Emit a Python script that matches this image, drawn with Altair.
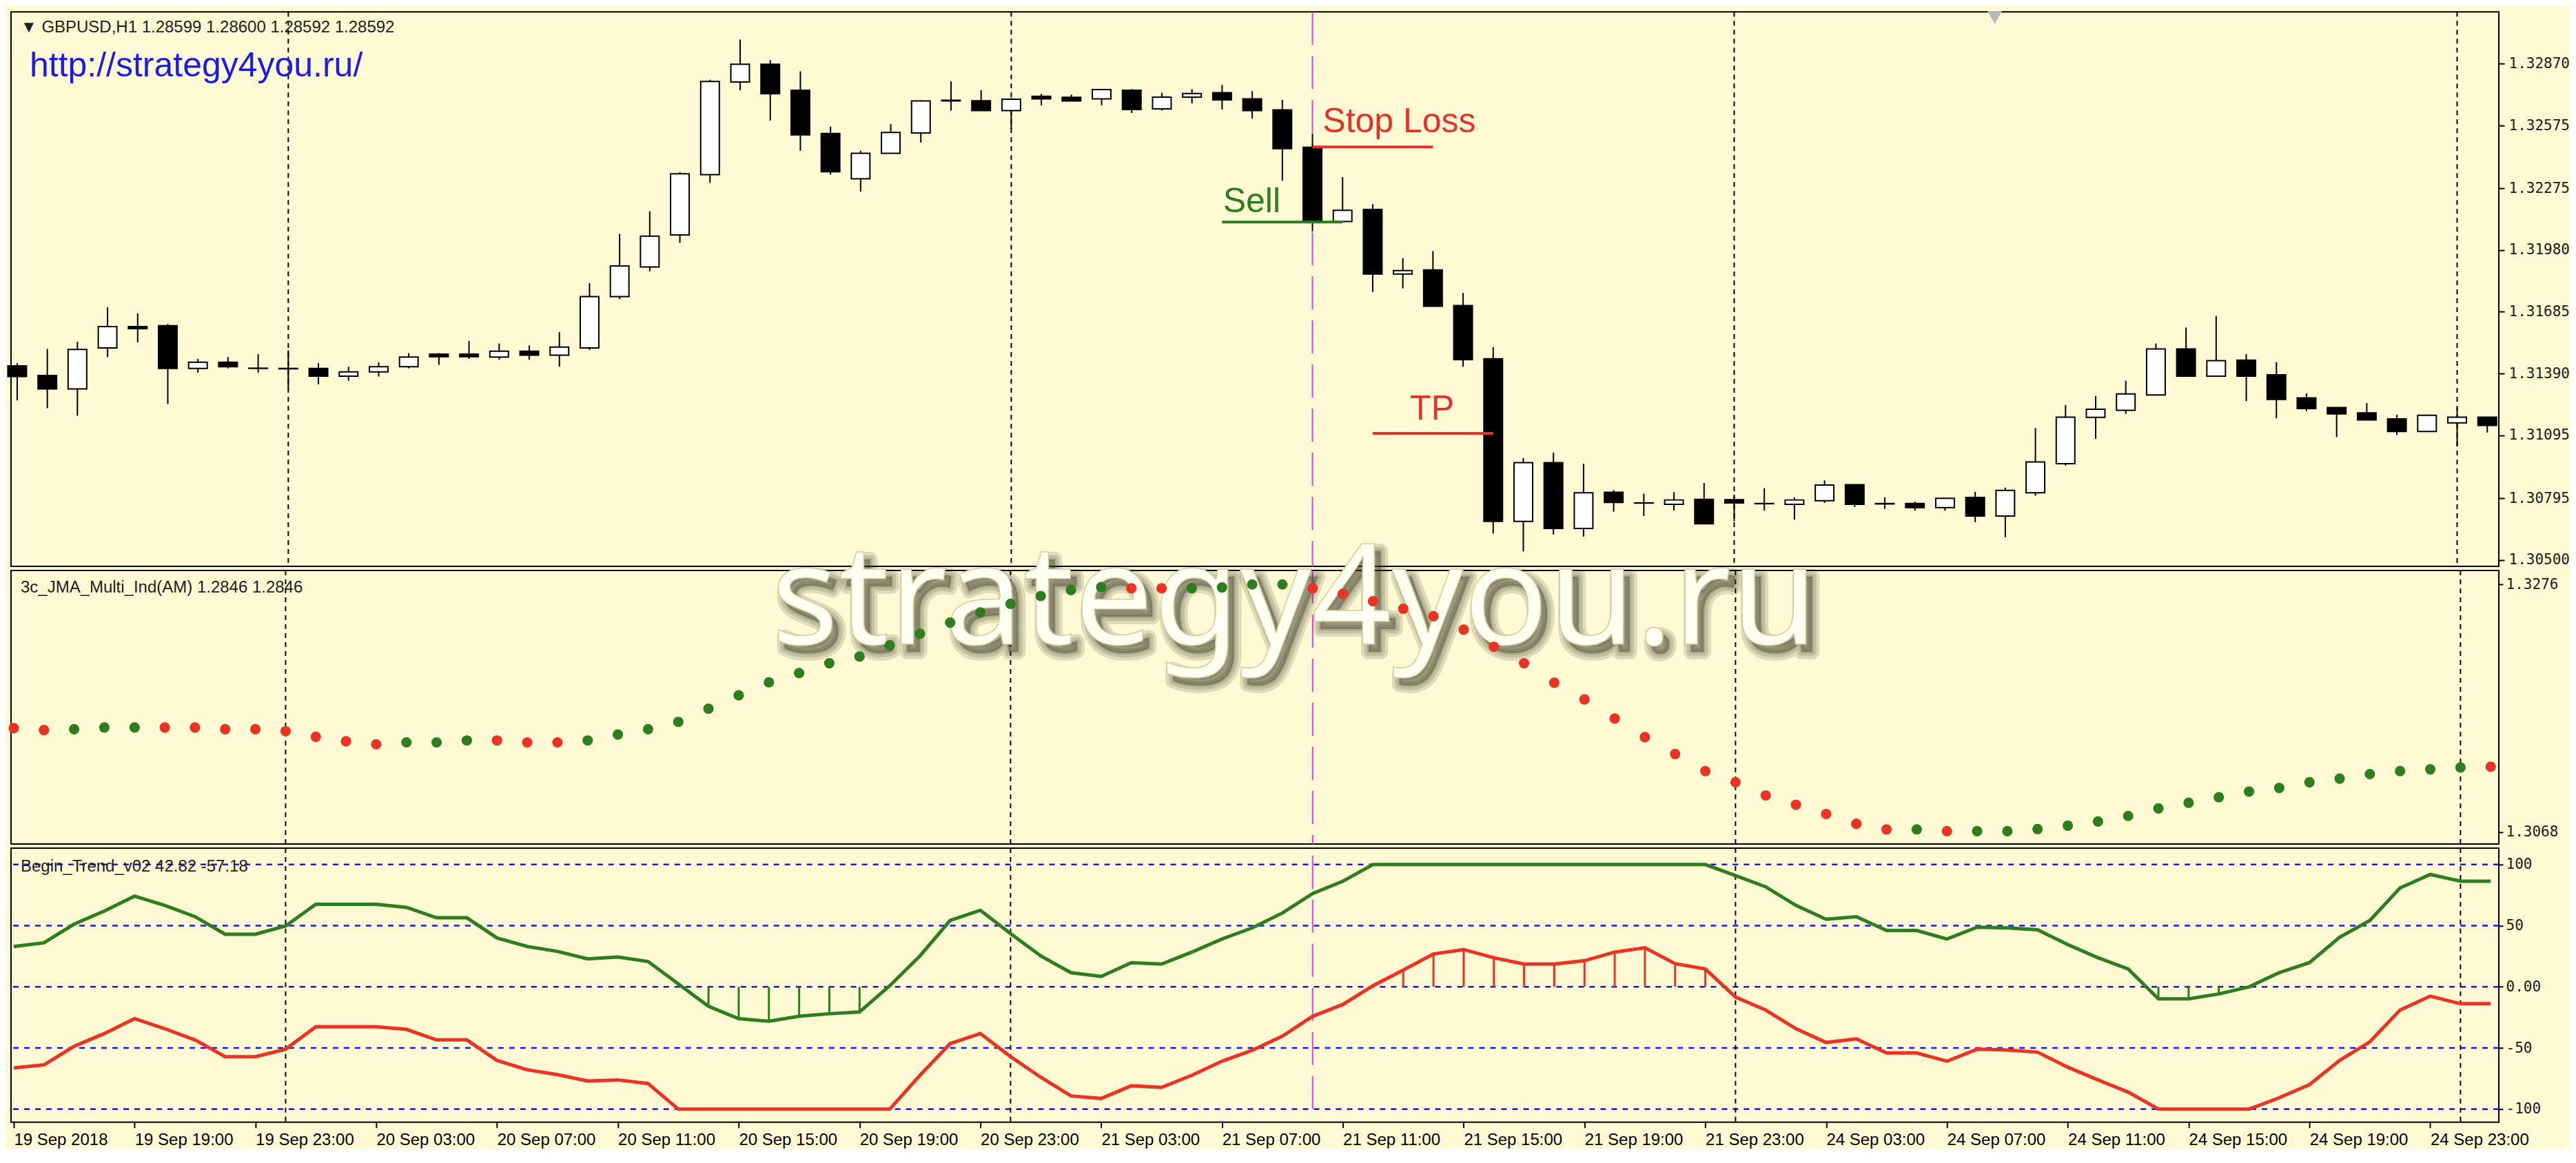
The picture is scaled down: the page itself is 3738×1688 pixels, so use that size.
import altair as alt
import pandas as pd

# ---------------- data ----------------
opens = [1.31427, 1.31381, 1.31317, 1.31513, 1.31615, 1.31619, 1.31415, 1.31444, 1.31415, 1.31415,
         1.31415, 1.31378, 1.31398, 1.31423, 1.31483, 1.31483, 1.31469, 1.31497, 1.31478, 1.31513,
         1.31758, 1.31899, 1.32052, 1.32340, 1.32782, 1.32867, 1.32743, 1.32536, 1.32320, 1.32442,
         1.32539, 1.32692, 1.32693, 1.32646, 1.32714, 1.32709, 1.32702, 1.32743, 1.32654, 1.32710,
         1.32731, 1.32702, 1.32649, 1.32471, 1.32116, 1.32174, 1.31865, 1.31885, 1.31715, 1.31461,
         1.30685, 1.30965, 1.30651, 1.30824, 1.30773, 1.30766, 1.30790, 1.30788, 1.30770, 1.30766,
         1.30783, 1.30860, 1.30770, 1.30770, 1.30750, 1.30799, 1.30710, 1.30821, 1.30960, 1.31181,
         1.31215, 1.31288, 1.31508, 1.31378, 1.31454, 1.31384, 1.31274, 1.31228, 1.31203, 1.31174,
         1.31114, 1.31155, 1.31182]
highs = [1.31440, 1.31508, 1.31542, 1.31707, 1.31678, 1.31627, 1.31461, 1.31469, 1.31483, 1.31501,
         1.31440, 1.31423, 1.31444, 1.31488, 1.31488, 1.31546, 1.31534, 1.31525, 1.31588, 1.31822,
         1.32057, 1.32165, 1.32352, 1.32793, 1.32985, 1.32887, 1.32833, 1.32569, 1.32454, 1.32581,
         1.32695, 1.32785, 1.32743, 1.32705, 1.32726, 1.32722, 1.32748, 1.32748, 1.32731, 1.32748,
         1.32768, 1.32739, 1.32697, 1.32536, 1.32328, 1.32199, 1.31941, 1.31975, 1.31775, 1.31517,
         1.30987, 1.31013, 1.30960, 1.30834, 1.30817, 1.30824, 1.30868, 1.30812, 1.30843, 1.30799,
         1.30880, 1.30860, 1.30800, 1.30778, 1.30795, 1.30826, 1.30846, 1.31130, 1.31240, 1.31283,
         1.31356, 1.31534, 1.31610, 1.31665, 1.31483, 1.31445, 1.31296, 1.31230, 1.31249, 1.31194,
         1.31194, 1.31228, 1.31184]
lows = [1.31262, 1.31225, 1.31189, 1.31469, 1.31539, 1.31245, 1.31395, 1.31415, 1.31395, 1.31313,
        1.31339, 1.31356, 1.31376, 1.31415, 1.31432, 1.31461, 1.31457, 1.31457, 1.31423, 1.31503,
        1.31746, 1.31878, 1.32014, 1.32301, 1.32743, 1.32598, 1.32454, 1.32340, 1.32259, 1.32440,
        1.32493, 1.32646, 1.32646, 1.32556, 1.32671, 1.32692, 1.32671, 1.32634, 1.32646, 1.32680,
        1.32651, 1.32607, 1.32311, 1.32069, 1.32114, 1.31780, 1.31797, 1.31710, 1.31423, 1.30626,
        1.30541, 1.30622, 1.30612, 1.30731, 1.30710, 1.30736, 1.30673, 1.30685, 1.30736, 1.30693,
        1.30773, 1.30753, 1.30744, 1.30736, 1.30736, 1.30681, 1.30609, 1.30807, 1.30951, 1.31079,
        1.31198, 1.31286, 1.31376, 1.31376, 1.31259, 1.31177, 1.31211, 1.31087, 1.31167, 1.31097,
        1.31112, 1.31045, 1.31109]
closes = [1.31376, 1.31317, 1.31505, 1.31615, 1.31605, 1.31415, 1.31444, 1.31423, 1.31416, 1.31413,
          1.31378, 1.31398, 1.31423, 1.31469, 1.31471, 1.31471, 1.31497, 1.31478, 1.31517, 1.31758,
          1.31904, 1.32046, 1.32344, 1.32785, 1.32867, 1.32726, 1.32530, 1.32354, 1.32442, 1.32541,
          1.32692, 1.32695, 1.32646, 1.32700, 1.32702, 1.32692, 1.32746, 1.32651, 1.32710, 1.32727,
          1.32697, 1.32646, 1.32464, 1.32119, 1.32170, 1.31865, 1.31882, 1.31712, 1.31457, 1.30685,
          1.30965, 1.30651, 1.30821, 1.30775, 1.30772, 1.30787, 1.30673, 1.30773, 1.30769, 1.30787,
          1.30858, 1.30766, 1.30768, 1.30750, 1.30795, 1.30710, 1.30833, 1.30968, 1.31182, 1.31220,
          1.31293, 1.31508, 1.31378, 1.31452, 1.31378, 1.31267, 1.31223, 1.31198, 1.31169, 1.31114,
          1.31191, 1.31182, 1.31143]

jma_values = [1.31553, 1.31537, 1.31544, 1.31559, 1.31559, 1.31559, 1.31559, 1.31544, 1.31544, 1.31528,
              1.31481, 1.31443, 1.31418, 1.31434, 1.31434, 1.31450, 1.31450, 1.31434, 1.31434, 1.31450,
              1.31500, 1.31544, 1.31606, 1.31716, 1.31829, 1.31938, 1.32016, 1.32098, 1.32154, 1.32248,
              1.32345, 1.32439, 1.32524, 1.32596, 1.32662, 1.32712, 1.32737, 1.32727, 1.32727, 1.32727,
              1.32734, 1.32759, 1.32759, 1.32727, 1.32680, 1.32618, 1.32555, 1.32492, 1.32380, 1.32236,
              1.32098, 1.31935, 1.31794, 1.31634, 1.31478, 1.31337, 1.31193, 1.31099, 1.30989, 1.30911,
              1.30833, 1.30751, 1.30704, 1.30704, 1.30689, 1.30689, 1.30689, 1.30707, 1.30735, 1.30770,
              1.30817, 1.30880, 1.30927, 1.30974, 1.31021, 1.31052, 1.31099, 1.31130, 1.31168, 1.31193,
              1.31208, 1.31224, 1.31230]
jma_colors = list("rrgggrrrrrrrrgggrrrggggggggggggggggggrrggggrrrrrrrrrrrrrrrrrrrrgrgggggggggggggggggr")

trend_green = [33.0, 36.0, 51.3, 62.0, 74.2, 66.6, 57.4, 43.0, 43.0, 49.8,
               67.5, 67.5, 67.5, 65.0, 56.5, 56.5, 40.0, 33.0, 29.0, 22.9,
               24.4, 20.7, 2.4, -15.9, -26.0, -28.1, -24.1, -22.0, -20.5, 0.9,
               25.3, 54.3, 62.6, 43.6, 25.3, 11.6, 8.5, 19.8, 18.6, 28.4,
               39.1, 48.2, 60.4, 76.3, 86.4, 100, 100, 100, 100, 100,
               100, 100, 100, 100, 100, 100, 100, 91.0, 81.8, 66.6,
               55.3, 57.4, 46.1, 46.1, 39.1, 48.8, 48.2, 46.7, 34.5, 23.8,
               14.6, -9.8, -9.8, -5.8, 0.0, 11.6, 19.8, 40.6, 54.3, 80.9,
               91.9, 86.4, 86.4]
trend_red = [-66.3, -63.8, -48.6, -38.2, -26.0, -34.2, -43.4, -57.1, -57.1, -51.0,
             -32.7, -32.7, -32.7, -34.8, -43.4, -43.4, -60.2, -67.8, -71.8, -77.0,
             -76.1, -79.1, -100, -100, -100, -100, -100, -100, -100, -100,
             -72.4, -46.4, -38.2, -57.1, -73.9, -89.2, -91.3, -80.9, -82.2, -72.4,
             -60.8, -51.9, -40.3, -24.1, -14.4, 0.9, 13.7, 26.9, 30.5, 23.8,
             18.6, 18.6, 21.4, 28.4, 32.0, 19.0, 14.6, -8.3, -19.0, -34.2,
             -45.5, -42.5, -54.1, -54.1, -60.8, -51.0, -51.6, -53.4, -65.7, -76.1,
             -86.1, -100, -100, -100, -100, -90.7, -80.0, -60.2, -44.9, -19.0,
             -7.6, -13.8, -13.8]

time_labels = ["19 Sep 2018", "19 Sep 19:00", "19 Sep 23:00", "20 Sep 03:00", "20 Sep 07:00",
               "20 Sep 11:00", "20 Sep 15:00", "20 Sep 19:00", "20 Sep 23:00", "21 Sep 03:00",
               "21 Sep 07:00", "21 Sep 11:00", "21 Sep 15:00", "21 Sep 19:00", "21 Sep 23:00",
               "24 Sep 03:00", "24 Sep 07:00", "24 Sep 11:00", "24 Sep 15:00", "24 Sep 19:00",
               "24 Sep 23:00"]
time_tick_bars = [0, 4, 8, 12, 16, 20, 24, 28, 32, 36, 40, 44, 48, 52, 56, 60, 64, 68, 72, 76, 80]

price_ticks = [1.30500, 1.30795, 1.31095, 1.31390, 1.31685, 1.31980, 1.32275, 1.32575, 1.32870]
jma_ticks = [1.3068, 1.3276]
trend_ticks = [-100, -50, 0, 50, 100]
trend_levels = [100, 50, 0, -50, -100]
day_breaks = [9, 33, 57, 81]
signal_bar = 43

trade_labels = ["Stop Loss", "Sell", "TP"]
trade_start = [43, 40, 45]
trade_end = [47, 44, 49]
trade_level = [1.32472, 1.32114, 1.31105]
trade_label_bar = [43.34, 40.03, 46.24]
trade_label_price = [1.32591, 1.32209, 1.31220]
trade_colors = ["#E8302A", "#2E7D1F", "#E8302A"]

watermark_text = "strategy4you.ru"
watermark_bar = 42.4
watermark_level = 1.32258

# ---------------- styling ----------------
BG = "#FFFAD4"
GREEN = "#2E7D1F"
RED = "#EB3324"
W = 3611
WM_FONT = "Noto Sans"
WM_SIZE = 204

n = len(opens)
bars = list(range(n))

XS = alt.Scale(domain=[-0.09, 82.27], nice=False, zero=False)
X_NONE = alt.X("bar:Q", scale=XS, axis=None)

right_axis_common = dict(orient="right", title=None, grid=False, domain=False, ticks=True,
                         tickColor="black", tickWidth=2, labelFont="DejaVu Sans Mono",
                         labelFontSize=21, labelColor="#1a1a1a", labelOverlap=False)

# ---------------- price panel ----------------
candles = pd.DataFrame(dict(bar=bars, open=opens, high=highs, low=lows, close=closes))
candles["dir"] = ["up" if c > o else "down" for o, c in zip(opens, closes)]

PS = alt.Scale(domain=[1.30470, 1.33117], nice=False, zero=False)
P_AXIS = alt.Axis(values=price_ticks, format=".5f", tickSize=8, labelPadding=6, **right_axis_common)

seps_p = alt.Chart(pd.DataFrame({"bar": day_breaks})).mark_rule(
    color="black", strokeWidth=2, strokeDash=[7, 6]).encode(x=X_NONE)
sig_p = alt.Chart(pd.DataFrame({"bar": [signal_bar]})).mark_rule(
    color="#E03EE0", strokeWidth=2, strokeDash=[48, 16]).encode(x=X_NONE)
wicks = alt.Chart(candles).mark_rule(color="black", strokeWidth=2).encode(
    x=X_NONE, y=alt.Y("low:Q", scale=PS, axis=P_AXIS), y2="high:Q")
bodies = alt.Chart(candles).mark_bar(width=27, stroke="black", strokeWidth=2).encode(
    x=X_NONE, y=alt.Y("open:Q", scale=PS, axis=P_AXIS), y2="close:Q",
    fill=alt.Fill("dir:N", scale=alt.Scale(domain=["up", "down"], range=["white", "black"]), legend=None))

trade = pd.DataFrame(dict(label=trade_labels, start=trade_start, end=trade_end, level=trade_level,
                          lx=trade_label_bar, ly=trade_label_price, col=trade_colors))
trade_lines = alt.Chart(trade).mark_rule(strokeWidth=4).encode(
    x=alt.X("start:Q", scale=XS, axis=None), x2="end:Q",
    y=alt.Y("level:Q", scale=PS, axis=P_AXIS), color=alt.Color("col:N", scale=None))
trade_text = alt.Chart(trade).mark_text(align="left", baseline="middle", font="Liberation Sans",
                                        fontSize=50).encode(
    x=alt.X("lx:Q", scale=XS, axis=None), y=alt.Y("ly:Q", scale=PS, axis=P_AXIS),
    text="label:N", color=alt.Color("col:N", scale=None))

hdr_p = alt.Chart(pd.DataFrame({"t": ["\u25bc GBPUSD,H1  1.28599 1.28600 1.28592 1.28592"]})).mark_text(
    align="left", baseline="middle", font="Liberation Sans", fontSize=24, color="#202020").encode(
    x=alt.value(14), y=alt.value(23), text="t:N")
url = alt.Chart(pd.DataFrame({"t": ["http://strategy4you.ru/"]})).mark_text(
    align="left", baseline="middle", font="Liberation Sans", fontSize=50, color="#1C1CE8").encode(
    x=alt.value(27), y=alt.value(79), text="t:N")
marker = alt.Chart(pd.DataFrame({"bar": [65.65]})).mark_point(
    shape="triangle-down", filled=True, color="#B8B8B8", size=450, opacity=1).encode(
    x=X_NONE, y=alt.value(8))

price = alt.layer(seps_p, sig_p, wicks, bodies, trade_lines, trade_text, hdr_p, url, marker).properties(
    width=W, height=805)

# ---------------- JMA panel ----------------
JS = alt.Scale(domain=[1.30582, 1.32876], nice=False, zero=False)
J_AXIS = alt.Axis(values=jma_ticks, format=".4f", tickSize=6, labelPadding=4, **right_axis_common)
jdf = pd.DataFrame(dict(bar=bars, v=jma_values, c=jma_colors))

seps_j = alt.Chart(pd.DataFrame({"bar": day_breaks})).mark_rule(
    color="black", strokeWidth=2, strokeDash=[7, 6]).encode(x=X_NONE)
sig_j = alt.Chart(pd.DataFrame({"bar": [signal_bar]})).mark_rule(
    color="#E03EE0", strokeWidth=2, strokeDash=[48, 16]).encode(x=X_NONE)

wm = pd.DataFrame({"bar": [watermark_bar], "v": [watermark_level], "t": [watermark_text]})
# soft drop shadow: the same word with widening translucent outlines
shadow_widths = [22, 13, 5]
wm_layers = [
    alt.Chart(wm).mark_text(font=WM_FONT, fontSize=WM_SIZE, align="center", baseline="alphabetic",
                            dx=9, dy=11, fill="#3a3a28", fillOpacity=0.16, stroke="#3a3a28",
                            strokeOpacity=0.16, strokeWidth=sw, strokeJoin="round").encode(
        x=X_NONE, y=alt.Y("v:Q", scale=JS, axis=J_AXIS), text="t:N")
    for sw in shadow_widths
]
wm_main = alt.Chart(wm).mark_text(font=WM_FONT, fontSize=WM_SIZE, align="center", baseline="alphabetic",
                                  fill="#FFFEF0", stroke="#d2cca0", strokeWidth=1.5).encode(
    x=X_NONE, y=alt.Y("v:Q", scale=JS, axis=J_AXIS), text="t:N")

dots = alt.Chart(jdf).mark_circle(size=230, opacity=1).encode(
    x=X_NONE, y=alt.Y("v:Q", scale=JS, axis=J_AXIS),
    color=alt.Color("c:N", scale=alt.Scale(domain=["g", "r"], range=[GREEN, RED]), legend=None))
hdr_j = alt.Chart(pd.DataFrame({"t": ["3c_JMA_Multi_Ind(AM) 1.2846 1.2846"]})).mark_text(
    align="left", baseline="middle", font="Liberation Sans", fontSize=24, color="#202020").encode(
    x=alt.value(14), y=alt.value(25), text="t:N")

jma = alt.layer(seps_j, sig_j, *wm_layers, wm_main, dots, hdr_j).properties(width=W, height=397)

# ---------------- Begin_Trend panel ----------------
TS = alt.Scale(domain=[-110.7, 113.5], nice=False, zero=False)
T_AXIS = alt.Axis(values=trend_ticks, labelExpr="datum.value == 0 ? '0.00' : '' + datum.value",
                  tickSize=6, labelPadding=4, **right_axis_common)
label_array = "[" + ",".join("'" + s + "'" for s in time_labels) + "]"
X_AX = alt.X("bar:Q", scale=XS, axis=alt.Axis(
    values=time_tick_bars, labelExpr=label_array + "[round(datum.value / 4)]",
    labelAlign="left", labelPadding=6, tickSize=8, tickWidth=2, tickColor="black",
    domain=False, grid=False, title=None, labelFont="Liberation Sans", labelFontSize=24,
    labelColor="black", labelOverlap=False, labelFlush=False, labelBound=False))

lines_df = pd.DataFrame(dict(bar=bars + bars, t=trend_green + trend_red,
                             s=["green"] * n + ["red"] * n))
hist_rows = [(b, v, "green") for b, v in zip(bars, trend_green) if v < 0] + \
            [(b, v, "red") for b, v in zip(bars, trend_red) if v > 0]
hist_df = pd.DataFrame(hist_rows, columns=["bar", "t", "s"])
hist_df["base"] = 0.0
SER = alt.Scale(domain=["green", "red"], range=[GREEN, RED])

lvl = alt.Chart(pd.DataFrame({"lvl": trend_levels})).mark_rule(
    color="#1414FF", strokeWidth=2.5, strokeDash=[8, 8]).encode(y=alt.Y("lvl:Q", scale=TS, axis=T_AXIS))
seps_t = alt.Chart(pd.DataFrame({"bar": day_breaks})).mark_rule(
    color="black", strokeWidth=2, strokeDash=[7, 6]).encode(x=X_AX)
sig_t = alt.Chart(pd.DataFrame({"bar": [signal_bar], "lo": [-100]})).mark_rule(
    color="#E03EE0", strokeWidth=2, strokeDash=[48, 16]).encode(
    x=X_AX, y=alt.Y("lo:Q", scale=TS, axis=T_AXIS), y2=alt.value(0))
hist = alt.Chart(hist_df).mark_rule(strokeWidth=3).encode(
    x=X_AX, y=alt.Y("t:Q", scale=TS, axis=T_AXIS), y2="base:Q",
    color=alt.Color("s:N", scale=SER, legend=None))
tlines = alt.Chart(lines_df).mark_line(strokeWidth=5).encode(
    x=X_AX, y=alt.Y("t:Q", scale=TS, axis=T_AXIS),
    color=alt.Color("s:N", scale=SER, legend=None))
hdr_t = alt.Chart(pd.DataFrame({"t": ["Begin_Trend_v02 42.82 -57.18"]})).mark_text(
    align="left", baseline="middle", font="Liberation Sans", fontSize=24, color="#202020").encode(
    x=alt.value(14), y=alt.value(27), text="t:N")

trend = alt.layer(lvl, seps_t, sig_t, hist, tlines, hdr_t).properties(width=W, height=398)

chart = alt.vconcat(price, jma, trend, spacing=6, bounds="flush").resolve_scale(
    x="independent", y="independent", color="independent", fill="independent"
).properties(
    background=BG, padding={"left": 0, "top": 6, "right": 0, "bottom": 0}
).configure_view(stroke="black", strokeWidth=2)

chart.save("out.html", embed_options={"renderer": "svg", "actions": False})
